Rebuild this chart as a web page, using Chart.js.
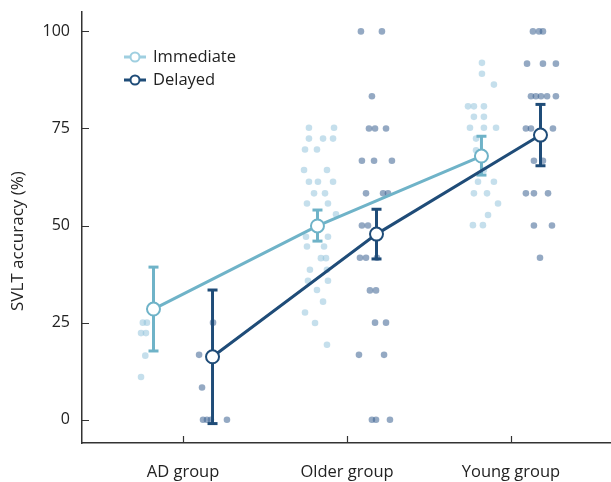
<!DOCTYPE html>
<html>
<head>
<meta charset="utf-8">
<script src="https://cdn.jsdelivr.net/npm/chart.js@4.4.1/dist/chart.umd.min.js"></script>
<style>
  html, body { margin: 0; padding: 0; background: #fff; }
  #wrap { width: 611px; height: 482px; position: relative; }
</style>
</head>
<body>
<div id="wrap"><canvas id="svltChart"></canvas></div>
<script>
// group labels, y ticks and axis title
const groups = ['AD group', 'Older group', 'Young group'];
const yTicks = [0, 25, 50, 75, 100];
const yTitle = 'SVLT accuracy (%)';

// group means with error bar ends (%)
const immediateMean = [28.5, 49.9, 67.9];
const immediateLow = [17.7, 46, 63];
const immediateHigh = [39.3, 54, 73];
const delayedMean = [16.2, 47.8, 73.3];
const delayedLow = [-1, 41.4, 65.4];
const delayedHigh = [33.4, 54.2, 81.2];
const immediateShift = -0.18;
const delayedShift = 0.18;

// individual scores per group: [x jitter from group tick, accuracy]
const immediateAD = [[-0.245, 25], [-0.22, 25], [-0.256, 22.3], [-0.226, 22.3], [-0.23, 16.5], [-0.256, 11]];
const immediateOlder = [
    [-0.232, 75.2], [-0.079, 75.2], [-0.232, 72.4], [-0.146, 72.4], [-0.085, 72.4],
    [-0.256, 69.6], [-0.183, 69.6], [-0.262, 64.3], [-0.122, 64.3],
    [-0.232, 61.3], [-0.177, 61.3], [-0.085, 61.3], [-0.201, 58.3], [-0.134, 58.3],
    [-0.244, 55.7], [-0.116, 55.7], [-0.067, 52.9], [-0.25, 47.1], [-0.116, 47.1],
    [-0.244, 44.6], [-0.14, 44.6], [-0.159, 41.6], [-0.128, 41.6],
    [-0.226, 38.6], [-0.122, 38.6], [-0.238, 35.8], [-0.116, 35.8],
    [-0.183, 33.4], [-0.146, 30.4], [-0.256, 27.6], [-0.195, 24.9], [-0.122, 19.3]
];
const immediateYoung = [
    [-0.177, 91.9], [-0.177, 89.1], [-0.104, 86.3],
    [-0.262, 80.7], [-0.226, 80.7], [-0.165, 80.7], [-0.226, 78], [-0.165, 78],
    [-0.25, 75.2], [-0.165, 75.2], [-0.091, 75.2], [-0.213, 72.4], [-0.213, 69.4],
    [-0.165, 64.3], [-0.201, 61.3], [-0.104, 61.3], [-0.226, 58.3], [-0.146, 58.3],
    [-0.079, 55.7], [-0.14, 52.7], [-0.232, 50.1], [-0.171, 50.1]
];
const delayedAD = [[0.183, 25], [0.098, 16.7], [0.116, 8.3], [0.122, 0], [0.146, 0], [0.17, 0], [0.268, 0]];
const delayedOlder = [
    [0.085, 100], [0.213, 100], [0.152, 83.3],
    [0.134, 75], [0.171, 75], [0.238, 75], [0.091, 66.7], [0.165, 66.7], [0.274, 66.7],
    [0.116, 58.3], [0.22, 58.3], [0.25, 58.3], [0.091, 50], [0.128, 50],
    [0.079, 41.7], [0.116, 41.7], [0.183, 41.7], [0.14, 33.3], [0.177, 33.3],
    [0.171, 25], [0.238, 25], [0.073, 16.7], [0.226, 16.7],
    [0.152, 0], [0.177, 0], [0.262, 0]
];
const delayedYoung = [
    [0.134, 100], [0.171, 100], [0.195, 100], [0.098, 91.7], [0.195, 91.7], [0.274, 91.7],
    [0.122, 83.3], [0.152, 83.3], [0.183, 83.3], [0.22, 83.3], [0.274, 83.3],
    [0.091, 75], [0.122, 75], [0.256, 75], [0.14, 66.7], [0.195, 66.7],
    [0.091, 58.3], [0.14, 58.3], [0.226, 58.3], [0.14, 50], [0.25, 50], [0.177, 41.7]
];

const colors = {
    immLine: '#6fb3c8',
    immDot: 'rgba(140,192,218,0.5)',
    immLegend: '#9fcfe0',
    delLine: '#1f4c78',
    delDot: 'rgba(60,98,145,0.55)',
    axis: '#333',
    text: '#222'
};
const font = 'Open Sans';

function dots(groupsDots) {
    const out = [];
    groupsDots.forEach(function(list, gi) {
        list.forEach(function(d) { out.push({ x: gi + d[0], y: d[1] }); });
    });
    return out;
}

function meanPoints(means, shift) {
    return means.map(function(v, i) { return { x: i + shift, y: v }; });
}

function errorBars(lows, highs, shift, color, order) {
    return lows.map(function(lo, i) {
        return {
            type: 'line',
            data: [{ x: i + shift, y: lo }, { x: i + shift, y: highs[i] }],
            borderColor: color,
            borderWidth: 3,
            pointStyle: 'line',
            pointRadius: 5,
            pointBorderColor: color,
            pointBorderWidth: 3,
            showLine: true,
            order: order
        };
    });
}

// inward tick marks + y axis title
const axisExtras = {
    id: 'axisExtras',
    afterDraw: function(chart) {
        const ctx = chart.ctx, a = chart.chartArea;
        const xs = chart.scales.x, ys = chart.scales.y;
        ctx.save();
        ctx.strokeStyle = colors.axis;
        ctx.lineWidth = 1.2;
        ctx.beginPath();
        yTicks.forEach(function(v) {
            const py = Math.round(ys.getPixelForValue(v)) + 0.5;
            ctx.moveTo(a.left, py);
            ctx.lineTo(a.left + 7, py);
        });
        groups.forEach(function(g, i) {
            const px = Math.round(xs.getPixelForValue(i)) + 0.5;
            ctx.moveTo(px, a.bottom);
            ctx.lineTo(px, a.bottom - 7);
        });
        ctx.stroke();

        ctx.translate(18, ys.getPixelForValue(46));
        ctx.rotate(-Math.PI / 2);
        ctx.fillStyle = colors.text;
        ctx.font = '17px "' + font + '"';
        ctx.textAlign = 'center';
        ctx.textBaseline = 'middle';
        ctx.fillText(yTitle, 0, 0);
        ctx.restore();
    }
};

// legend inside the plot, top-left
const insideLegend = {
    id: 'insideLegend',
    afterDraw: function(chart) {
        const ctx = chart.ctx, a = chart.chartArea;
        const items = [
            { text: 'Immediate', color: colors.immLegend },
            { text: 'Delayed', color: colors.delLine }
        ];
        ctx.save();
        items.forEach(function(it, i) {
            const y = a.top + 45 + i * 23;
            const x0 = a.left + 42;
            ctx.strokeStyle = it.color;
            ctx.lineWidth = 3;
            ctx.beginPath();
            ctx.moveTo(x0, y);
            ctx.lineTo(x0 + 22, y);
            ctx.stroke();
            ctx.fillStyle = '#fff';
            ctx.lineWidth = 2;
            ctx.beginPath();
            ctx.arc(x0 + 11, y, 4.5, 0, Math.PI * 2);
            ctx.fill();
            ctx.stroke();
            ctx.fillStyle = colors.text;
            ctx.font = '16.5px "' + font + '"';
            ctx.textBaseline = 'middle';
            ctx.textAlign = 'left';
            ctx.fillText(it.text, x0 + 29, y);
        });
        ctx.restore();
    }
};

const datasets = [
    {
        data: dots([immediateAD, immediateOlder, immediateYoung]),
        backgroundColor: colors.immDot,
        borderWidth: 0,
        pointRadius: 3.3,
        order: 8
    },
    {
        data: dots([delayedAD, delayedOlder, delayedYoung]),
        backgroundColor: colors.delDot,
        borderWidth: 0,
        pointRadius: 3.3,
        order: 7
    }
].concat(errorBars(immediateLow, immediateHigh, immediateShift, colors.immLine, 5))
 .concat([{
        type: 'line',
        data: meanPoints(immediateMean, immediateShift),
        borderColor: colors.immLine,
        borderWidth: 3,
        pointRadius: 6.5,
        pointBackgroundColor: '#fff',
        pointBorderColor: colors.immLine,
        pointBorderWidth: 2,
        showLine: true,
        order: 4
    }])
 .concat(errorBars(delayedLow, delayedHigh, delayedShift, colors.delLine, 3))
 .concat([{
        type: 'line',
        data: meanPoints(delayedMean, delayedShift),
        borderColor: colors.delLine,
        borderWidth: 3,
        pointRadius: 6.5,
        pointBackgroundColor: '#fff',
        pointBorderColor: colors.delLine,
        pointBorderWidth: 2,
        showLine: true,
        order: 2
    }]);

new Chart(document.getElementById('svltChart').getContext('2d'), {
    type: 'scatter',
    data: { datasets: datasets },
    options: {
        responsive: true,
        maintainAspectRatio: false,
        animation: false,
        layout: { autoPadding: false, padding: { top: 12, left: 0, right: 0, bottom: 0 } },
        plugins: {
            legend: { display: false },
            tooltip: { enabled: false }
        },
        scales: {
            x: {
                type: 'linear',
                min: -0.616,
                max: 2.61,
                afterBuildTicks: function(s) {
                    s.ticks = groups.map(function(g, i) { return { value: i }; });
                },
                afterFit: function(s) {
                    s.height = 39;
                    s.paddingLeft = 0;
                    s.paddingRight = 0;
                },
                grid: { display: true, drawOnChartArea: false, drawTicks: false },
                border: { color: colors.axis, width: 1.5 },
                ticks: {
                    padding: 19,
                    color: colors.text,
                    font: { family: font, size: 16.5 },
                    maxRotation: 0,
                    callback: function(v) { return groups[v]; }
                }
            },
            y: {
                min: -6,
                max: 105,
                afterBuildTicks: function(s) {
                    s.ticks = yTicks.map(function(v) { return { value: v }; });
                },
                afterFit: function(s) {
                    s.width = 82;
                    s.paddingTop = 0;
                    s.paddingBottom = 0;
                },
                grid: { display: true, drawOnChartArea: false, drawTicks: false },
                border: { color: colors.axis, width: 1.5 },
                ticks: {
                    padding: 12,
                    color: colors.text,
                    font: { family: font, size: 16 }
                }
            }
        }
    },
    plugins: [axisExtras, insideLegend]
});
</script>
</body>
</html>
